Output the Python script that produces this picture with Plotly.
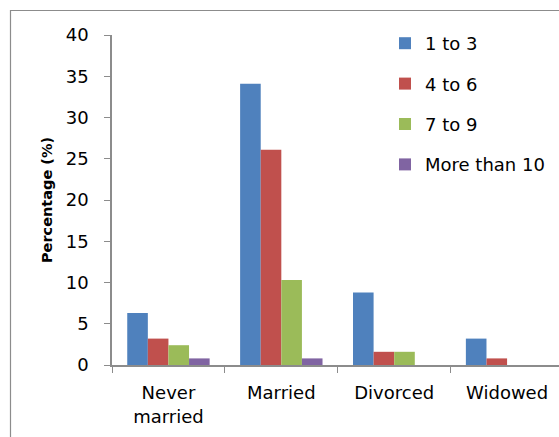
import plotly.graph_objects as go

# Marital status categories and share of respondents (%) by group size
categories = ["Never<br>married", "Married", "Divorced", "Widowed"]
series_names = ["1 to 3", "4 to 6", "7 to 9", "More than 10"]
one_to_three = [6.3, 34.1, 8.8, 3.2]
four_to_six = [3.2, 26.1, 1.6, 0.8]
seven_to_nine = [2.4, 10.3, 1.6, 0.0]
more_than_ten = [0.8, 0.8, 0.0, 0.0]
y_ticks = [0, 5, 10, 15, 20, 25, 30, 35, 40]

colors = ["#4F81BD", "#C0504D", "#9BBB59", "#8064A2"]
values = [one_to_three, four_to_six, seven_to_nine, more_than_ten]

W, H = 559, 437
L, R, T, B = 112, 0, 35, 72
font_family = "DejaVu Sans, sans-serif"

fig = go.Figure()
for name, vals, col in zip(series_names, values, colors):
    fig.add_trace(go.Bar(
        x=categories, y=vals, name=name, legendgroup=name,
        marker=dict(color=col, line=dict(width=0)),
    ))

pw = W - L - R
ph = H - T - B

def px_x(p):
    return (p - L) / pw

def px_y(p):
    return (H - B - p) / ph

fig.update_layout(
    width=W, height=H,
    margin=dict(l=L, r=R, t=T, b=B),
    paper_bgcolor="white", plot_bgcolor="white",
    barmode="group", bargap=0.27, bargroupgap=0,
    font=dict(family=font_family, size=18, color="#000000"),
    legend=dict(
        x=px_x(385), y=px_y(25), xanchor="left", yanchor="top",
        bgcolor="rgba(0,0,0,0)", tracegroupgap=14,
        font=dict(size=18), itemwidth=30,
    ),
    xaxis=dict(
        type="category", range=[-0.5, 3.46],
        showline=True, linecolor="#8C8C8C", linewidth=1.5,
        ticks="outside", tickson="boundaries", ticklen=6,
        tickcolor="#8C8C8C", showgrid=False, ticklabelstandoff=11,
    ),
    yaxis=dict(
        range=[0, 40], tickvals=y_ticks,
        showline=True, linecolor="#8C8C8C", linewidth=1.5,
        ticks="outside", ticklen=6, tickcolor="#8C8C8C",
        showgrid=False, zeroline=False, ticklabelstandoff=12,
        title=dict(text="<b>Percentage (%)</b>", font=dict(size=14.5), standoff=10),
    ),
    shapes=[dict(
        type="rect", xref="paper", yref="paper",
        x0=px_x(10.5), x1=px_x(W + 20), y0=px_y(10.5), y1=px_y(H + 20),
        line=dict(color="#8C8C8C", width=1.2), fillcolor="rgba(0,0,0,0)",
        layer="below",
    )],
)

fig.write_html("out.html")
